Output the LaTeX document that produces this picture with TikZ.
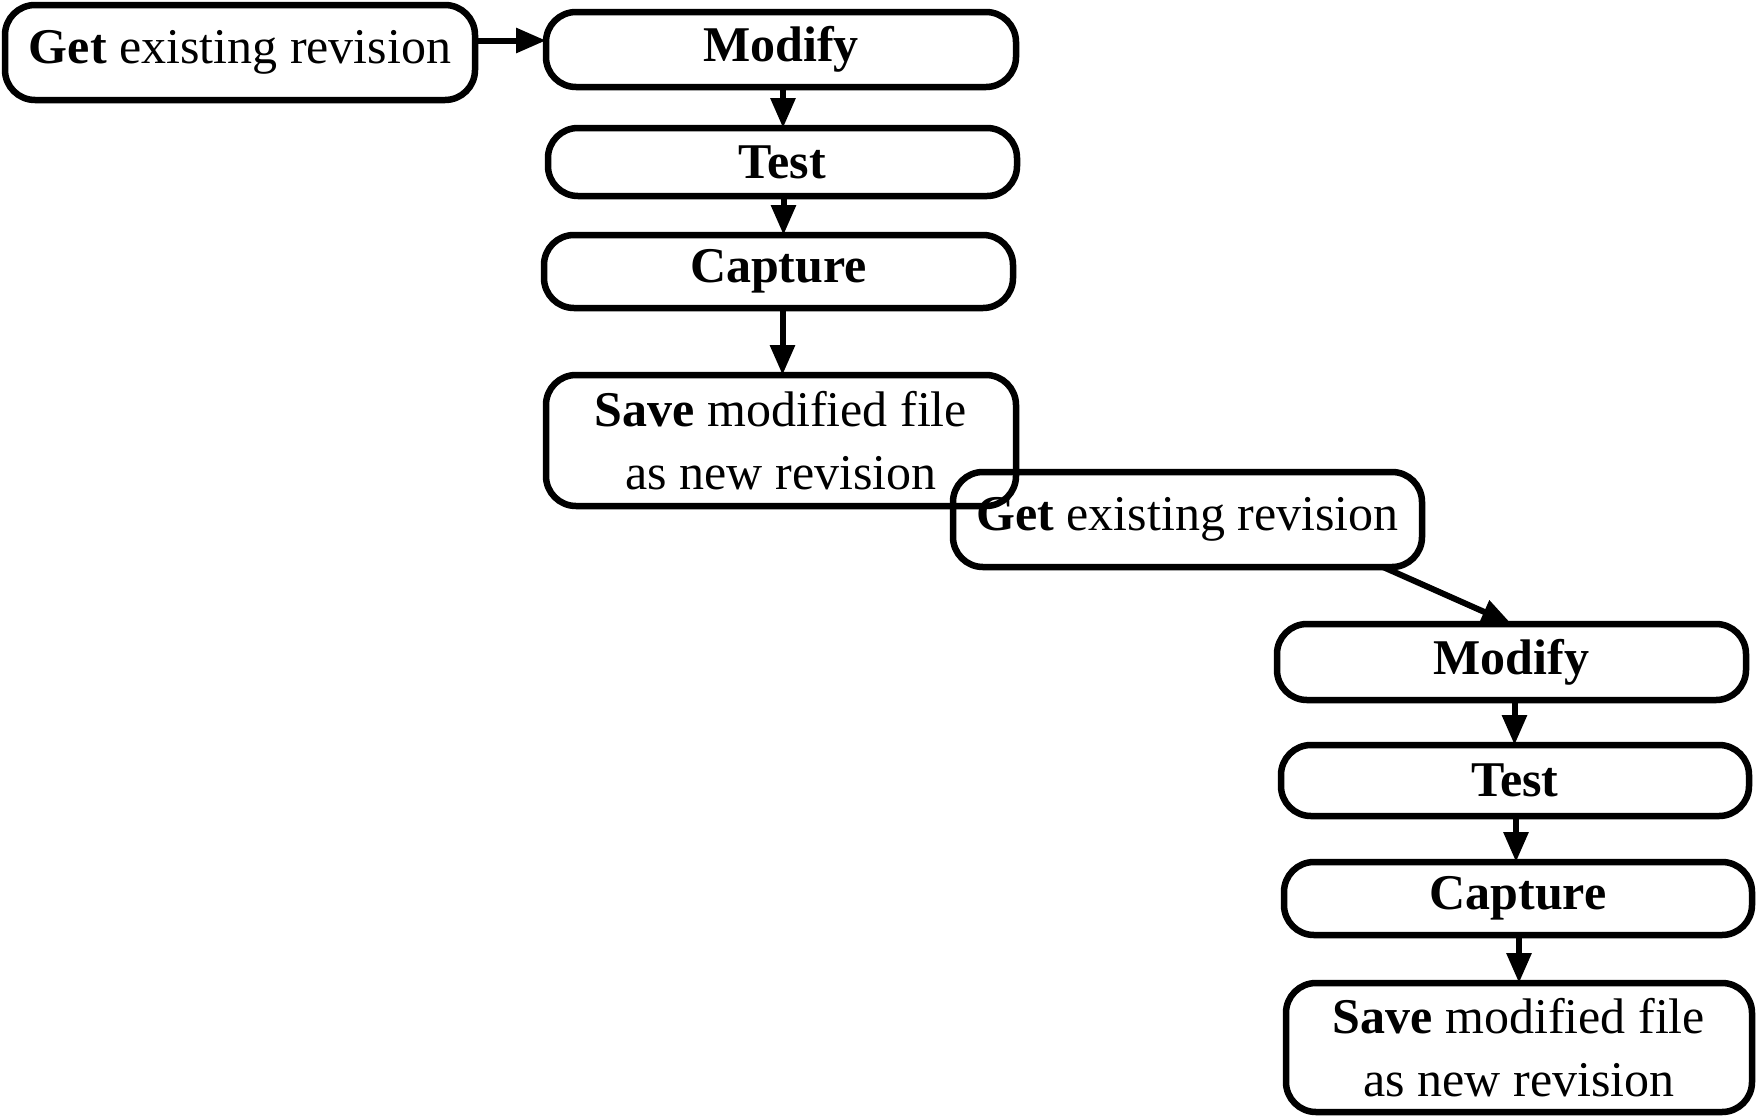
\documentclass[tikz,border=0pt]{standalone}
\usepackage{fontspec}
\setmainfont{Liberation Serif}
\usetikzlibrary{arrows.meta,calc}
\begin{document}
\begin{tikzpicture}[x=1pt,y=-1pt,
  box/.style={draw,line width=6.5pt,rounded corners=30pt,inner sep=0pt,outer sep=0pt,
    font=\fontsize{50}{63}\selectfont,align=center},
  arr/.style={line width=6pt,-{Triangle[length=30pt,width=24pt]}}]
\useasboundingbox (0,0) rectangle (1757,1117);
\node[box,minimum width=470pt,minimum height=95pt] (g1) at (240,52.5) {\textbf{Get} existing revision};
\node[box,minimum width=470pt,minimum height=75pt] (m1) at (781,49.5) {\textbf{Modify}};
\node[box,minimum width=469pt,minimum height=68pt] (t1) at (782.5,162) {\textbf{Test}};
\node[box,minimum width=469pt,minimum height=73pt] (c1) at (778.5,271.5) {\textbf{Capture}};
\node[box,minimum width=470pt,minimum height=131pt] (s1) at (781,440.5) {\textbf{Save} modified file\\ as new revision};
\node[box,minimum width=469pt,minimum height=95pt] (g2) at (1187.5,519.5) {\textbf{Get} existing revision};
\node[box,minimum width=469pt,minimum height=76pt] (m2) at (1511.5,662) {\textbf{Modify}};
\node[box,minimum width=468pt,minimum height=71pt] (t2) at (1515,780.5) {\textbf{Test}};
\node[box,minimum width=468pt,minimum height=73pt] (c2) at (1518,898.5) {\textbf{Capture}};
\node[box,minimum width=466pt,minimum height=129pt] (s2) at (1519,1047.5) {\textbf{Save} modified file\\ as new revision};
\draw[arr] ([yshift=12pt]g1.east) -- ([yshift=12pt]g1.east -| m1.west);
\draw[arr] ([xshift=2pt]m1.south) -- ([xshift=2pt]m1.south |- t1.north);
\draw[arr] ([xshift=1pt]t1.south) -- ([xshift=1pt]t1.south |- c1.north);
\draw[arr] ([xshift=4pt]c1.south) -- ([xshift=4pt]c1.south |- s1.north);
\draw[arr] ([xshift=-39pt]g2.south east) -- (m2.north);
\draw[arr] ([xshift=3pt]m2.south) -- ([xshift=3pt]m2.south |- t2.north);
\draw[arr] ([xshift=1pt]t2.south) -- ([xshift=1pt]t2.south |- c2.north);
\draw[arr] ([xshift=1pt]c2.south) -- ([xshift=1pt]c2.south |- s2.north);
\end{tikzpicture}
\end{document}
